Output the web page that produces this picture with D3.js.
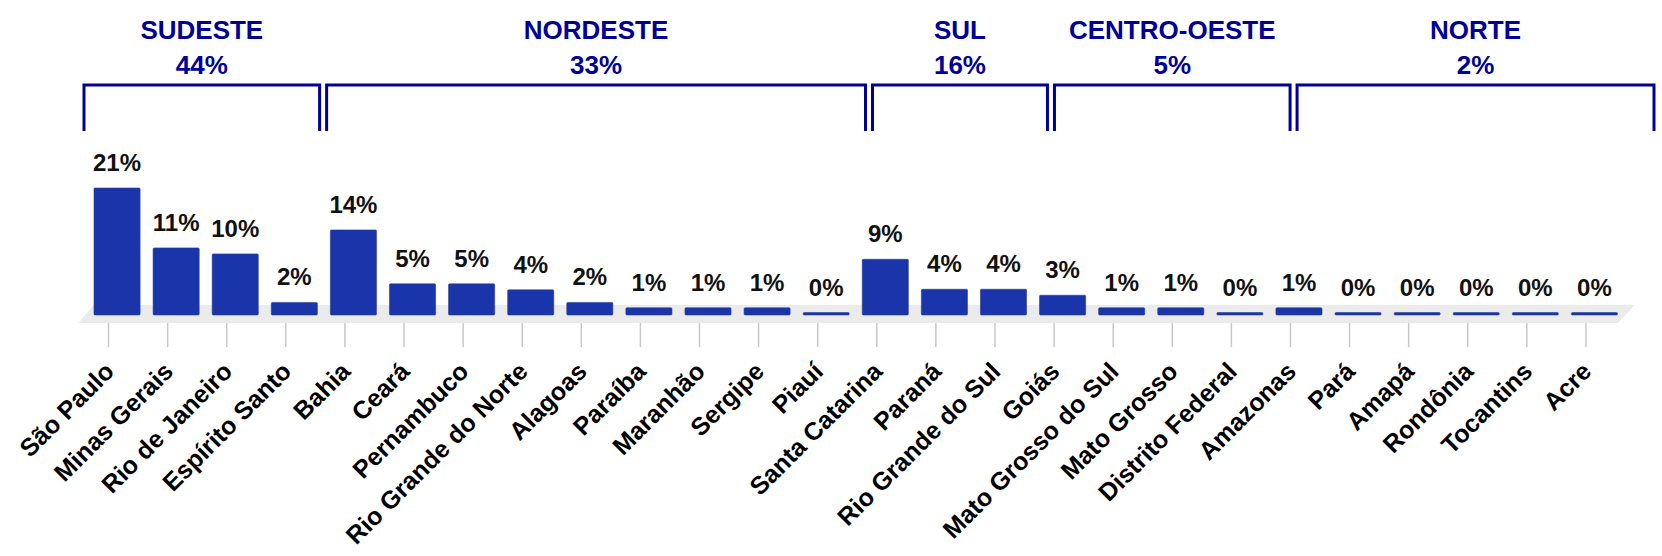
<!DOCTYPE html>
<html>
<head>
<meta charset="utf-8">
<script src="https://cdn.jsdelivr.net/npm/d3@7/dist/d3.min.js"></script>
<style>
  html, body { margin: 0; padding: 0; background: #fff; }
  svg { display: block; font-family: "Liberation Sans", Arial, sans-serif; }
</style>
</head>
<body>
<div id="chart"></div>
<script>
// estados, na ordem do gráfico
const states = ['São Paulo', 'Minas Gerais', 'Rio de Janeiro', 'Espírito Santo',
  'Bahia', 'Ceará', 'Pernambuco', 'Rio Grande do Norte', 'Alagoas', 'Paraíba',
  'Maranhão', 'Sergipe', 'Piauí',
  'Santa Catarina', 'Paraná', 'Rio Grande do Sul',
  'Goiás', 'Mato Grosso do Sul', 'Mato Grosso', 'Distrito Federal',
  'Amazonas', 'Pará', 'Amapá', 'Rondônia', 'Tocantins', 'Acre'];
// percentuais (estimados pela altura das barras)
const shares = [21.2, 11.2, 10.2, 2.1,
  14.2, 5.2, 5.2, 4.2, 2.1, 1.2, 1.2, 1.2, 0.4,
  9.3, 4.3, 4.3,
  3.3, 1.2, 1.2, 0.4,
  1.2, 0.4, 0.4, 0.4, 0.4, 0.4];
// regiões: nome, total e quantos estados cada uma tem
const regions = ['SUDESTE', 'NORDESTE', 'SUL', 'CENTRO-OESTE', 'NORTE'];
const regionShares = [44, 33, 16, 5, 2];
const regionSizes = [4, 9, 3, 4, 6];

const W = 1662, H = 556;
const barColor = '#1a35a9';
const navy = '#000099';

const svg = d3.select('#chart').append('svg')
  .attr('width', W).attr('height', H);

const x = d3.scaleBand().domain(states).range([87.5, 1624]).paddingInner(0.22).paddingOuter(0.11);
const y = d3.scaleLinear().domain([0, 21.2]).range([315, 188]);
// as chaves usam uma faixa um pouco mais larga que a das barras
const xr = d3.scaleBand().domain(states).range([80.5, 1657.5]);
const cx = d => x(d) + x.bandwidth() / 2;
const tickShift = -8.5;   // eixo fica um pouco à esquerda (efeito 3D)

// piso cinza em perspectiva
const fl = x.range();
svg.append('path')
  .attr('d', `M${fl[0] + 6},305 L${fl[1] + 11},305 L${fl[1] - 6},323 L${fl[0] - 9},323 Z`)
  .attr('fill', '#ebebeb');

// eixo x com rótulos rotacionados
const axis = svg.append('g').attr('transform', 'translate(0,323)');
axis.selectAll('line').data(states).enter().append('line')
  .attr('x1', d => cx(d) + tickShift).attr('x2', d => cx(d) + tickShift)
  .attr('y1', 0).attr('y2', 24)
  .attr('stroke', '#c8c8c8').attr('stroke-width', 1.5);
axis.selectAll('text').data(states).enter().append('text')
  .attr('transform', d => `translate(${cx(d) + tickShift + 7},${50}) rotate(-45)`)
  .attr('text-anchor', 'end')
  .attr('font-size', 25).attr('font-weight', 'bold').attr('fill', '#000')
  .text(d => d);

// barras
const data = states.map((s, i) => ({ state: s, value: shares[i] }));
svg.append('g').selectAll('rect').data(data).enter().append('rect')
  .attr('x', d => x(d.state))
  .attr('width', x.bandwidth())
  .attr('y', d => y(d.value))
  .attr('height', d => y(0) - y(d.value))
  .attr('rx', 1)
  .attr('fill', barColor)
  .attr('stroke', '#2a3c8c').attr('stroke-width', 0.6);

// rótulos de valor
svg.append('g').selectAll('text').data(data).enter().append('text')
  .attr('x', d => cx(d.state))
  .attr('y', d => y(d.value) - 17)
  .attr('text-anchor', 'middle')
  .attr('font-size', 24).attr('font-weight', 'bold').attr('fill', '#111')
  .text(d => Math.round(d.value) + '%');

// chaves das regiões
let start = 0;
const gap = 3.5;
const groups = regions.map((r, i) => {
  const first = states[start], last = states[start + regionSizes[i] - 1];
  start += regionSizes[i];
  const x0 = xr(first) + gap;
  const x1 = xr(last) + xr.bandwidth() - gap;
  return { name: r, share: regionShares[i], x0, x1 };
});

const g = svg.append('g').selectAll('g').data(groups).enter().append('g');
g.append('path')
  .attr('d', d => `M${d.x0},131 V85 H${d.x1} V131`)
  .attr('fill', 'none').attr('stroke', navy).attr('stroke-width', 3);
g.append('text')
  .attr('x', d => (d.x0 + d.x1) / 2).attr('y', 39)
  .attr('text-anchor', 'middle')
  .attr('font-size', 26).attr('font-weight', 'bold').attr('fill', navy)
  .text(d => d.name);
g.append('text')
  .attr('x', d => (d.x0 + d.x1) / 2).attr('y', 74)
  .attr('text-anchor', 'middle')
  .attr('font-size', 26).attr('font-weight', 'bold').attr('fill', navy)
  .text(d => d.share + '%');
</script>
</body>
</html>
